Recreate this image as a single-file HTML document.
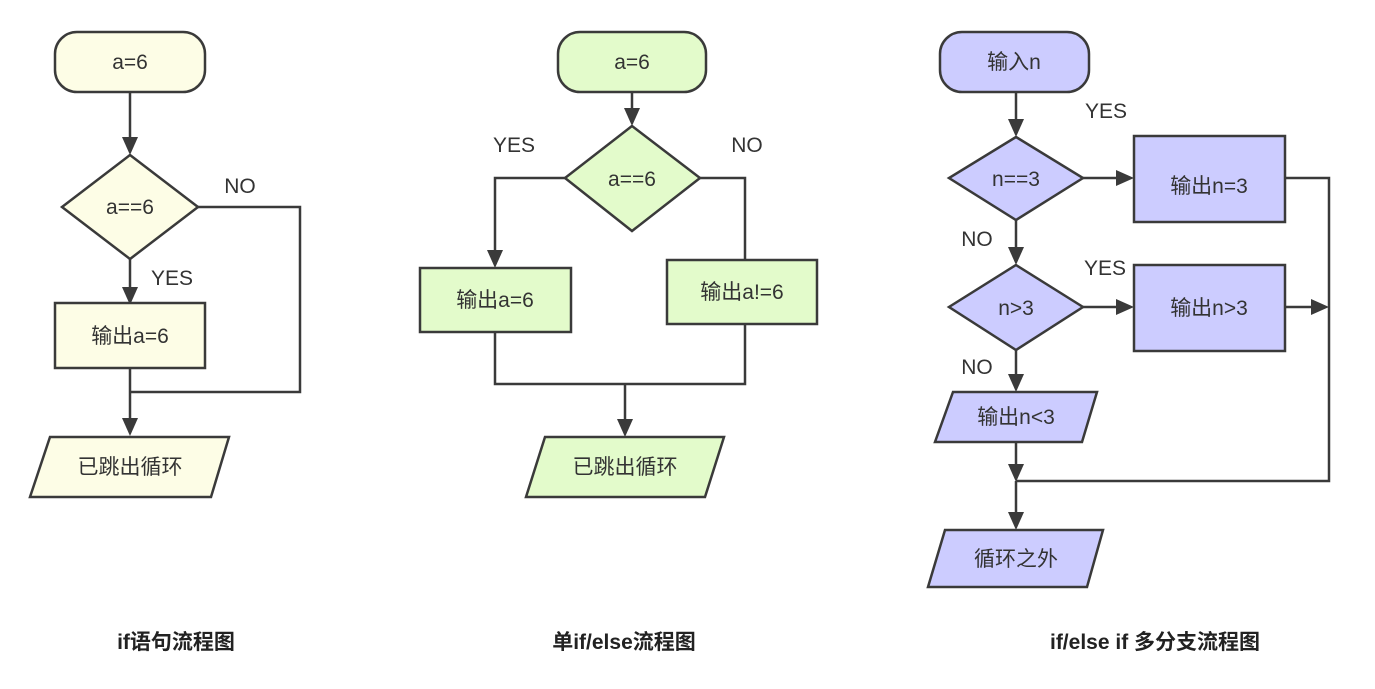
<!DOCTYPE html>
<html><head><meta charset="utf-8"><style>
html,body{margin:0;padding:0;background:#fff;}
svg{display:block;}
text{font-family:"Liberation Sans","Noto Sans CJK SC",sans-serif;fill:#333;}
</style></head><body>
<svg width="1375" height="689" viewBox="0 0 1375 689" xmlns="http://www.w3.org/2000/svg">
<defs>
<marker id="ar" viewBox="0 0 10 10" refX="10" refY="5" markerWidth="8" markerHeight="8" markerUnits="userSpaceOnUse" orient="auto">
</marker>
</defs>
<g stroke="#3a3a3a" stroke-width="2.5" fill="none">
<!-- chart 1 lines -->
<line x1="130" y1="92" x2="130" y2="140"/>
<line x1="130" y1="259" x2="130" y2="288"/>
<polyline points="198,207 300,207 300,392 130,392"/>
<line x1="130" y1="368" x2="130" y2="420"/>
<!-- chart 2 -->
<line x1="632" y1="92" x2="632" y2="110"/>
<polyline points="565,178 495,178 495,252"/>
<polyline points="700,178 745,178 745,260"/>
<polyline points="495,332 495,384 745,384 745,324"/>
<line x1="625" y1="384" x2="625" y2="420"/>
<!-- chart 3 -->
<line x1="1016" y1="92" x2="1016" y2="121"/>
<line x1="1083" y1="178" x2="1118" y2="178"/>
<polyline points="1285,178 1329,178 1329,481 1016,481"/>
<line x1="1016" y1="220" x2="1016" y2="249"/>
<line x1="1083" y1="307" x2="1118" y2="307"/>
<line x1="1285" y1="307" x2="1313" y2="307"/>
<line x1="1016" y1="350" x2="1016" y2="376"/>
<line x1="1016" y1="442" x2="1016" y2="466"/>
<line x1="1016" y1="481" x2="1016" y2="514"/>
</g>
<g fill="#3a3a3a">
<polygon points="122,137 138,137 130,155"/>
<polygon points="122,287 138,287 130,305"/>
<polygon points="122,418 138,418 130,436"/>
<polygon points="624,108 640,108 632,126"/>
<polygon points="487,250 503,250 495,268"/>
<polygon points="617,419 633,419 625,437"/>
<polygon points="1008,119 1024,119 1016,137"/>
<polygon points="1116,170 1116,186 1134,178"/>
<polygon points="1008,247 1024,247 1016,265"/>
<polygon points="1116,299 1116,315 1134,307"/>
<polygon points="1311,299 1311,315 1329,307"/>
<polygon points="1008,374 1024,374 1016,392"/>
<polygon points="1008,464 1024,464 1016,482"/>
<polygon points="1008,512 1024,512 1016,530"/>
</g>
<g stroke="#3a3a3a" stroke-width="2.5">
<!-- chart1 shapes -->
<rect x="55" y="32" width="150" height="60" rx="22" fill="#fdfde6"/>
<polygon points="130,155 198,207 130,259 62,207" fill="#fdfde6"/>
<rect x="55" y="303" width="150" height="65" fill="#fdfde6"/>
<polygon points="50,437 229,437 211,497 30,497" fill="#fdfde6"/>
<!-- chart2 -->
<rect x="558" y="32" width="148" height="60" rx="22" fill="#e3fbcb"/>
<polygon points="632,126 700,178 632,231 565,178" fill="#e3fbcb"/>
<rect x="420" y="268" width="151" height="64" fill="#e3fbcb"/>
<rect x="667" y="260" width="150" height="64" fill="#e3fbcb"/>
<polygon points="545,437 724,437 705,497 526,497" fill="#e3fbcb"/>
<!-- chart3 -->
<rect x="940" y="32" width="149" height="60" rx="22" fill="#ccccff"/>
<polygon points="1016,137 1083,178 1016,220 949,178" fill="#ccccff"/>
<rect x="1134" y="136" width="151" height="86" fill="#ccccff"/>
<polygon points="1016,265 1083,307 1016,350 949,307" fill="#ccccff"/>
<rect x="1134" y="265" width="151" height="86" fill="#ccccff"/>
<polygon points="953,392 1097,392 1082,442 935,442" fill="#ccccff"/>
<polygon points="945,530 1103,530 1087,587 928,587" fill="#ccccff"/>
</g>
<g font-size="21" text-anchor="middle">
<text x="130" y="69">a=6</text>
<text x="130" y="214">a==6</text>
<text x="130" y="343">输出a=6</text>
<text x="130" y="474">已跳出循环</text>
<text x="632" y="69">a=6</text>
<text x="632" y="186">a==6</text>
<text x="495" y="307">输出a=6</text>
<text x="742" y="299">输出a!=6</text>
<text x="625" y="474">已跳出循环</text>
<text x="1014" y="69">输入n</text>
<text x="1016" y="186">n==3</text>
<text x="1209" y="193">输出n=3</text>
<text x="1016" y="315">n>3</text>
<text x="1209" y="315">输出n>3</text>
<text x="1016" y="424">输出n<3</text>
<text x="1016" y="566">循环之外</text>
</g>
<g font-size="21" text-anchor="middle">
<text x="240" y="193">NO</text>
<text x="172" y="285">YES</text>
<text x="514" y="152">YES</text>
<text x="747" y="152">NO</text>
<text x="1106" y="118">YES</text>
<text x="977" y="246">NO</text>
<text x="1105" y="275">YES</text>
<text x="977" y="374">NO</text>
</g>
<g font-size="21" font-weight="bold" text-anchor="middle">
<text x="176" y="649" style="fill:#222">if语句流程图</text>
<text x="624" y="649" style="fill:#222">单if/else流程图</text>
<text x="1155" y="649" style="fill:#222">if/else if 多分支流程图</text>
</g>
</svg>
</body></html>
